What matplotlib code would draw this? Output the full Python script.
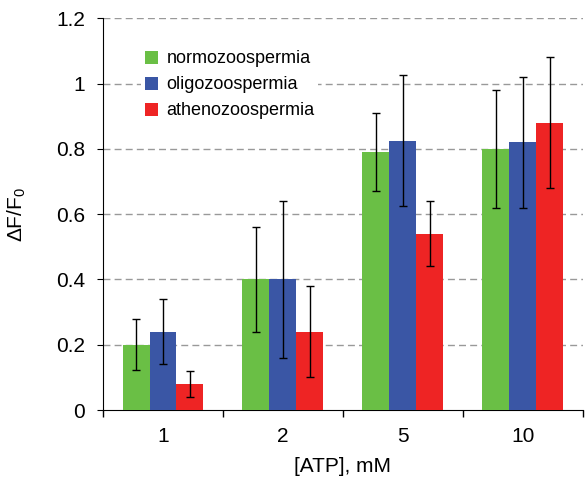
import matplotlib
matplotlib.use("Agg")
import matplotlib.pyplot as plt
import numpy as np
from matplotlib.ticker import FixedLocator, FuncFormatter

plt.rcParams['font.family'] = ['Liberation Sans', 'DejaVu Sans']
plt.rcParams['mathtext.fontset'] = 'custom'
plt.rcParams['mathtext.rm'] = 'Liberation Sans'

categories = ["1", "2", "5", "10"]
series = ["normozoospermia", "oligozoospermia", "athenozoospermia"]
normo = [0.20, 0.40, 0.79, 0.80]
normo_err = [0.078, 0.16, 0.12, 0.18]
oligo = [0.24, 0.40, 0.825, 0.82]
oligo_err = [0.10, 0.24, 0.20, 0.20]
atheno = [0.08, 0.24, 0.54, 0.88]
atheno_err = [0.04, 0.14, 0.10, 0.20]
colors = ["#6abf45", "#3a56a5", "#ee2424"]

fig = plt.figure(figsize=(5.87, 4.79), dpi=100)
ax = fig.add_axes([0.1755, 0.144, 0.8175, 0.818])

x = np.arange(len(categories))
w = 0.225
for i, (vals, errs) in enumerate([(normo, normo_err), (oligo, oligo_err), (atheno, atheno_err)]):
    ax.bar(x + (i - 1) * w, vals, w, color=colors[i], label=series[i], zorder=3,
           yerr=errs, error_kw=dict(ecolor='black', elinewidth=1, capsize=3, capthick=1, zorder=4))

ax.set_xlim(-0.5, len(categories) - 0.5)
ax.set_ylim(0, 1.2)
ax.set_yticks(np.arange(0, 1.21, 0.2))
ax.yaxis.set_major_formatter(FuncFormatter(lambda v, p: ('%g' % round(v, 1))))
for yv in np.arange(0.2, 1.21, 0.2):
    ax.axhline(yv, color='#999999', linestyle=(0, (5, 3)), linewidth=1, zorder=1)

ax.set_xticks(x)
ax.set_xticklabels(categories)
ax.xaxis.set_minor_locator(FixedLocator(np.arange(-0.5, len(categories), 1.0)))
ax.tick_params(axis='x', which='major', length=0, pad=12, labelsize=15)
ax.tick_params(axis='x', which='minor', length=5, direction='out', width=1)
ax.tick_params(axis='y', length=4, direction='out', labelsize=15, pad=9)

ax.spines['top'].set_visible(False)
ax.spines['right'].set_visible(False)

ax.set_xlabel("[ATP], mM", fontsize=15, labelpad=8)
ax.set_ylabel(r"$\Delta$F/F$_0$", fontsize=15, labelpad=20)

leg = ax.legend(loc='upper left', bbox_to_anchor=(0.079, 0.927), frameon=True, fontsize=13,
                handlelength=0.72, handleheight=0.72, handletextpad=0.5, labelspacing=0.5,
                borderaxespad=0, borderpad=0.2)
leg.get_frame().set_edgecolor('none')
leg.get_frame().set_facecolor('white')
leg.get_frame().set_alpha(1)
leg.set_zorder(5)

fig.savefig("out.png", dpi=100)
